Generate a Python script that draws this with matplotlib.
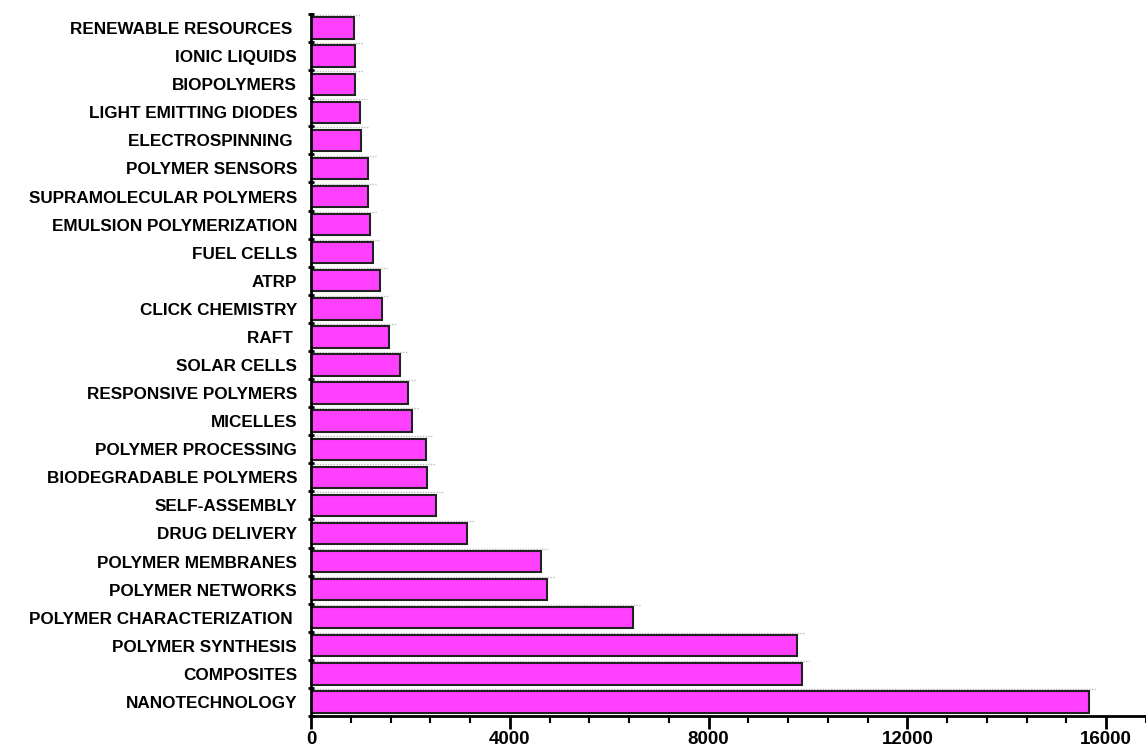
import matplotlib
matplotlib.use("Agg")
import matplotlib.pyplot as plt
from matplotlib.ticker import MultipleLocator
import numpy as np

categories = [
    "NANOTECHNOLOGY", "COMPOSITES", "POLYMER SYNTHESIS", "POLYMER CHARACTERIZATION ",
    "POLYMER NETWORKS", "POLYMER MEMBRANES", "DRUG DELIVERY", "SELF-ASSEMBLY",
    "BIODEGRADABLE POLYMERS", "POLYMER PROCESSING", "MICELLES", "RESPONSIVE POLYMERS",
    "SOLAR CELLS", "RAFT ", "CLICK CHEMISTRY", "ATRP", "FUEL CELLS",
    "EMULSION POLYMERIZATION", "SUPRAMOLECULAR POLYMERS", "POLYMER SENSORS",
    "ELECTROSPINNING ", "LIGHT EMITTING DIODES", "BIOPOLYMERS", "IONIC LIQUIDS",
    "RENEWABLE RESOURCES ",
]
values = [
    15660, 9870, 9780, 6470,
    4744, 4620, 3136, 2506,
    2338, 2312, 2023, 1943,
    1796, 1561, 1421, 1387, 1246,
    1182, 1155, 1155,
    1006, 980, 892, 892,
    858,
]
x_ticks = [0, 4000, 8000, 12000, 16000]

plt.rcParams['font.family'] = ['Liberation Sans', 'DejaVu Sans']

fig = plt.figure(figsize=(11.46, 7.49), dpi=100)
ax = fig.add_axes([311/1146, 1 - 716/749, 1 - 311/1146, (716 - 14)/749])

y = np.arange(len(categories))
# faint dotted guides above each bar
ax.hlines(y + 0.5 - 0.04, 0, np.array(values) + 150, colors="#bdbdbd",
          linestyles=(0, (1, 1)), lw=1.0, zorder=1)
ax.barh(y, values, height=0.76, color="#FF40FF", edgecolor="#222222",
        linewidth=1.5, zorder=2)

ax.set_ylim(-0.5, len(categories) - 0.5)
ax.set_xlim(0, 16800)

ax.set_yticks(y)
ax.set_yticklabels(categories, fontsize=12.3, fontweight="bold")
ax.tick_params(axis="y", which="major", length=0, pad=10)
ax.set_yticks(np.arange(len(categories) + 1) - 0.5, minor=True)
ax.tick_params(axis="y", which="minor", length=5, width=2, direction="inout")

ax.set_xticks(x_ticks)
ax.set_xticklabels([str(t) for t in x_ticks], fontsize=13.5, fontweight="bold")
ax.xaxis.set_minor_locator(MultipleLocator(800))
ax.tick_params(axis="x", which="major", length=9, width=2, pad=2)
ax.tick_params(axis="x", which="minor", length=5, width=1.5)

for s in ["top", "right"]:
    ax.spines[s].set_visible(False)
for s in ["left", "bottom"]:
    ax.spines[s].set_linewidth(2)

fig.savefig("out.png", dpi=100)
